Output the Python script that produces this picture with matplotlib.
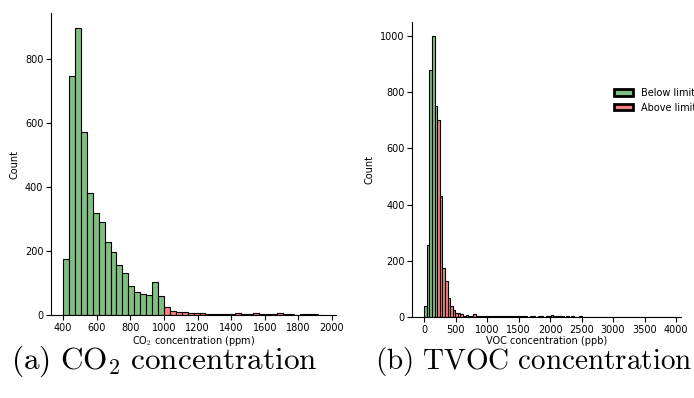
import numpy as np
import matplotlib
matplotlib.use("Agg")
import matplotlib.pyplot as plt
from matplotlib.patches import Patch

# ---------------- data ----------------
# CO2 histogram (ppm)
co2_start = 400.0
co2_width = 600.0 / 17
co2_below = [174, 747, 898, 572, 382, 320, 291, 227, 196, 157, 132, 91, 73, 66, 64, 102, 59]
co2_above = [26, 13, 9, 9, 6, 5, 5, 4, 3, 3, 2, 2, 5, 4, 4, 7, 4, 4, 2, 5, 3, 2, 1, 2, 3, 2, 1]

# TVOC histogram (ppb)
voc_start = 0.0
voc_width = 41.0
voc_below = [40, 255, 880, 1000, 750]
voc_above = [700, 430, 175, 128, 69, 40, 26, 15, 13, 12, 4, 7, 4, 5, 11, 5, 4, 3, 3, 2,
             4, 3, 2, 3, 4, 3, 2, 3, 2, 2, 3, 2, 3, 2, 2, 1, 2, 2, 1, 2,
             3, 1, 2, 4, 6, 3, 4, 2, 2, 1, 2, 1, 2, 1, 1, 2, 1, 1, 0, 1,
             1, 0, 1, 0, 0, 1, 0, 0, 0, 0, 1, 0, 0, 0, 0, 0, 0, 0, 0, 1,
             0, 0, 0, 0, 0, 0, 0, 0, 0, 0, 1, 0]

co2_xticks = [400, 600, 800, 1000, 1200, 1400, 1600, 1800, 2000]
co2_yticks = [0, 200, 400, 600, 800]
voc_xticks = [0, 500, 1000, 1500, 2000, 2500, 3000, 3500, 4000]
voc_yticks = [0, 200, 400, 600, 800, 1000]

labels = ["Below limit", "Above limit"]
green = "#80bf80"
red = "#f58080"

plt.rcParams["mathtext.fontset"] = "cm"

fig = plt.figure(figsize=(6.94, 3.98), dpi=100)
W, H = 694, 398


def ax_at(x0, y0, x1, y1):
    return fig.add_axes([x0 / W, 1 - y1 / H, (x1 - x0) / W, (y1 - y0) / H])


def draw(ax, start, width, below, above):
    n_b = len(below)
    xb = start + width * np.arange(n_b)
    xa = start + width * (n_b + np.arange(len(above)))
    ax.bar(xb, below, width=width, align="edge", color=green,
           edgecolor="black", linewidth=0.8)
    ax.bar(xa, above, width=width, align="edge", color=red,
           edgecolor="black", linewidth=0.8)
    for s in ("top", "right"):
        ax.spines[s].set_visible(False)
    ax.tick_params(labelsize=7, length=3.5, width=0.8, pad=2)
    ax.set_ylabel("Count", fontsize=7, labelpad=4)


ax1 = ax_at(51, 13.3, 336, 315)
draw(ax1, co2_start, co2_width, co2_below, co2_above)
ax1.set_xlim(328, 2024)
ax1.set_ylim(0, 943)
ax1.set_xticks(co2_xticks)
ax1.set_yticks(co2_yticks)
ax1.set_xlabel(r"CO$_2$ concentration (ppm)", fontsize=7, labelpad=1)

ax2 = ax_at(412.3, 21.7, 681, 317)
draw(ax2, voc_start, voc_width, voc_below, voc_above)
ax2.set_xlim(-191, 4080)
ax2.set_ylim(0, 1051)
ax2.set_xticks(voc_xticks)
ax2.set_yticks(voc_yticks)
ax2.set_xlabel("VOC concentration (ppb)", fontsize=7, labelpad=1)

handles = [Patch(facecolor=green, edgecolor="black", linewidth=2),
           Patch(facecolor=red, edgecolor="black", linewidth=2)]
fig.legend(handles, labels, loc="upper left", bbox_to_anchor=(610 / W, 1 - 84 / H),
           frameon=False, fontsize=7, handlelength=2.0, handleheight=0.6,
           handletextpad=0.8, labelspacing=0.5, borderaxespad=0)

fig.text(164 / W, 1 - 361 / H, r"$\mathrm{(a)\ CO_2\ concentration}$",
         ha="center", va="center", fontsize=22.5)
fig.text(534 / W, 1 - 361 / H, r"$\mathrm{(b)\ TVOC\ concentration}$",
         ha="center", va="center", fontsize=21)

fig.savefig("out.png", dpi=100)
